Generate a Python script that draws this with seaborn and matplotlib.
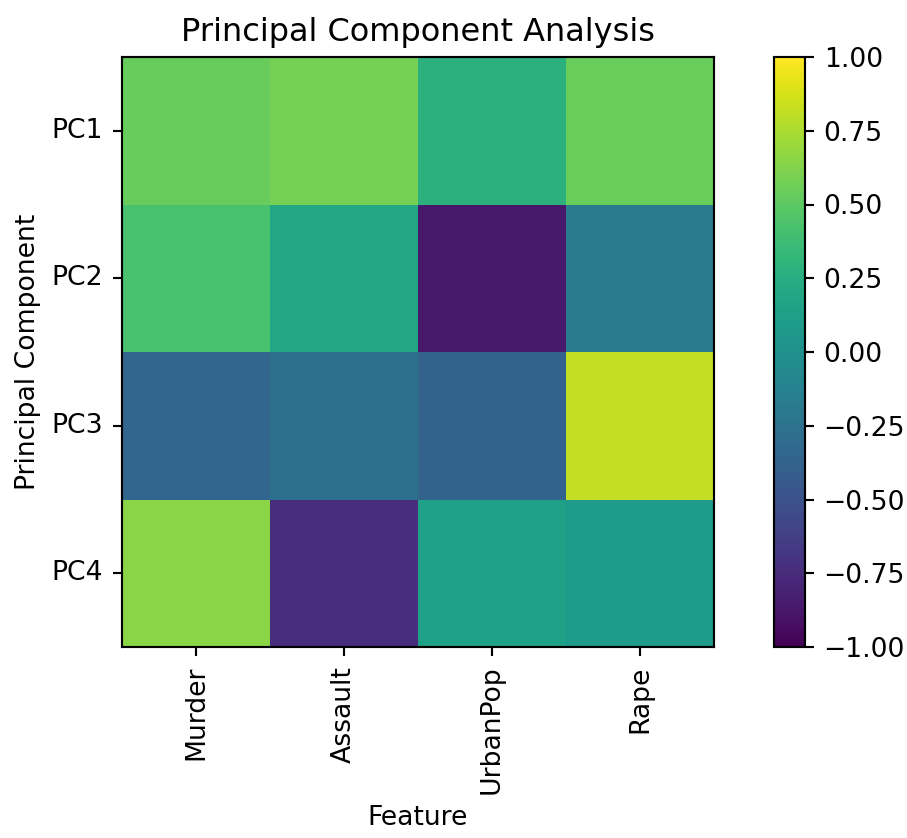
import numpy as np
import pandas as pd
import seaborn as sns
import matplotlib.pyplot as plt

# PCA loadings (USArrests, standardized)
features = ["Murder", "Assault", "UrbanPop", "Rape"]
components = ["PC1", "PC2", "PC3", "PC4"]
pc1 = [0.536, 0.583, 0.278, 0.543]
pc2 = [0.418, 0.188, -0.873, -0.167]
pc3 = [-0.341, -0.268, -0.378, 0.818]
pc4 = [0.649, -0.743, 0.134, 0.089]

loadings = pd.DataFrame([pc1, pc2, pc3, pc4], index=components, columns=features)

DPI = 192
fig = plt.figure(figsize=(907 / DPI, 838 / DPI), dpi=DPI)
ax = fig.add_axes([122 / 907, 1 - 647 / 838, 592 / 907, 590 / 838])
cax = fig.add_axes([774 / 907, 1 - 647 / 838, 31 / 907, 590 / 838])

sns.heatmap(loadings, cmap="viridis", vmin=-1, vmax=1, ax=ax, cbar_ax=cax)

# put the frames back like plain imshow
for spine in ax.spines.values():
    spine.set_visible(True)
cbar = ax.collections[0].colorbar
cbar.outline.set_linewidth(0.8)
cbar.outline.set_visible(True)
ticks = [-1, -0.75, -0.5, -0.25, 0, 0.25, 0.5, 0.75, 1]
cbar.set_ticks(ticks)
cbar.set_ticklabels([f"{t:.2f}".replace("-", "\u2212") for t in ticks])

ax.set_title("Principal Component Analysis")
ax.set_xlabel("Feature")
ax.set_ylabel("Principal Component")
ax.tick_params(axis="x", rotation=90)
ax.tick_params(axis="y", rotation=0)
ax.tick_params(length=3.5, width=0.8)

plt.savefig("out.png", dpi=DPI)
